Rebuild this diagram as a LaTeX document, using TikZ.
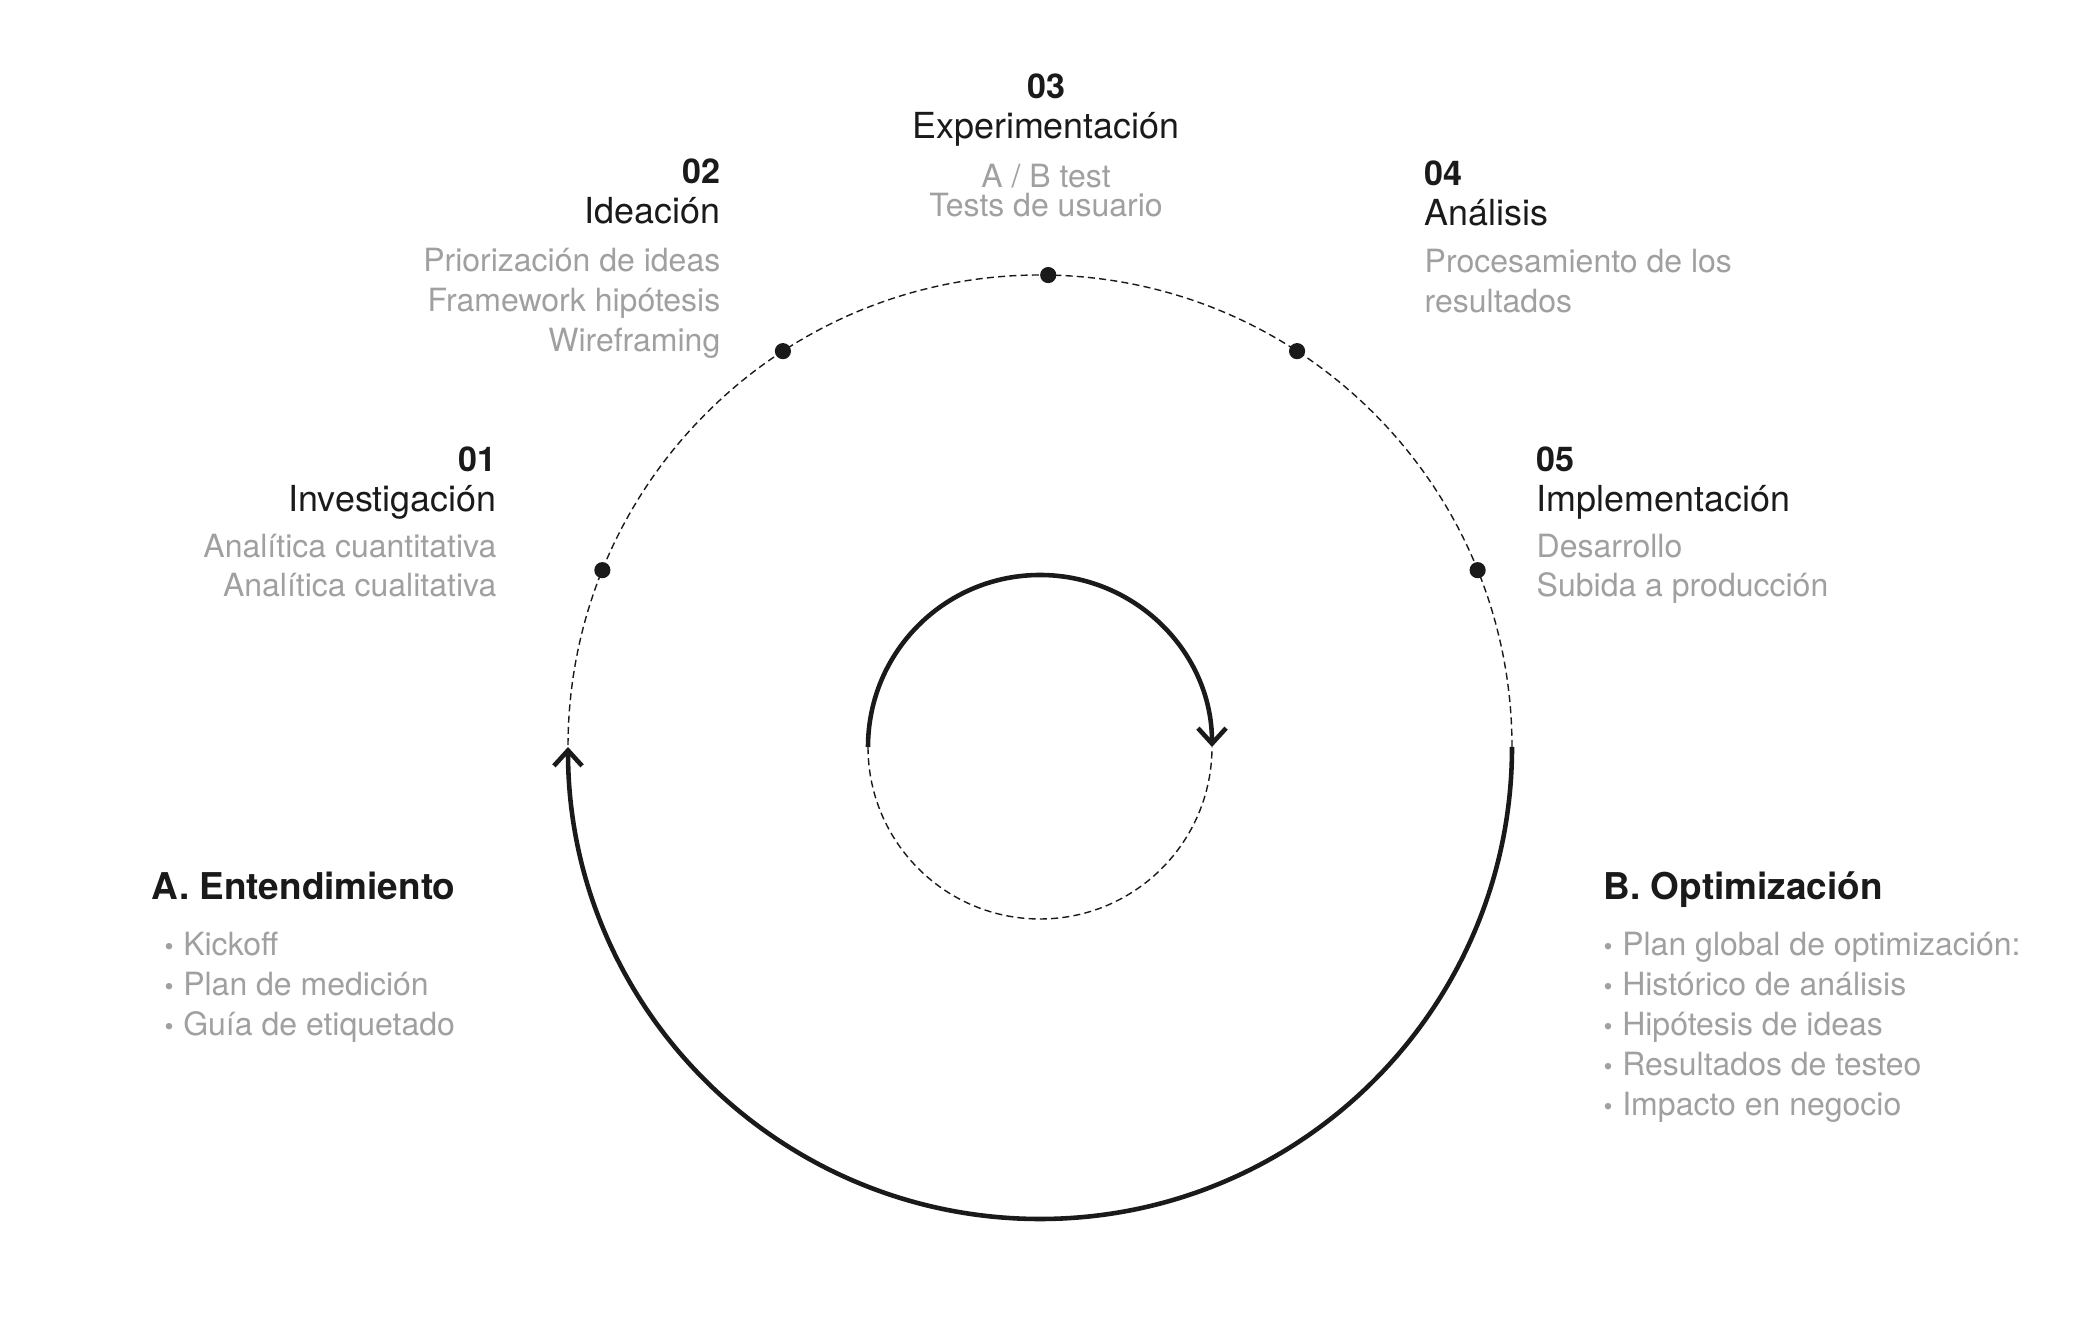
\documentclass[tikz,border=0pt]{standalone}
\usepackage{fontspec}
\setmainfont{TeX Gyre Heros}
\usetikzlibrary{arrows.meta}
\tikzset{>={Straight Barb[length=4.4pt,width=8pt]}}
\definecolor{ink}{HTML}{1A1A1A}
\definecolor{soft}{HTML}{A0A0A0}
\newcommand{\bul}{\scalebox{0.8}{•}\hspace{0.3em}}

\tikzset{
  num/.style={inner sep=0pt, text=ink, font=\fontsize{9.7}{11}\selectfont\bfseries},
  ttl/.style={inner sep=0pt, text=ink, font=\fontsize{10.2}{12}\selectfont},
  desc/.style={inner sep=0pt, text=soft, font=\fontsize{9.1}{11}\selectfont},
  hdg/.style={inner sep=0pt, text=ink, font=\fontsize{10.5}{12}\selectfont\bfseries},
  loopline/.style={draw=ink, line width=1.3pt},
  guide/.style={draw=ink, line width=0.4pt, dash pattern=on 2pt off 1.2pt},
  stagedot/.style={circle, fill=ink, inner sep=0pt, minimum size=4.6pt}
}

\begin{document}
\begin{tikzpicture}[x=0.01cm, y=0.01cm]
  \useasboundingbox (0,0) rectangle (2096,1324);
  \coordinate (c) at (1040,577);

  % outer cycle
  \draw[guide] ([shift={(0:472)}]c) arc[start angle=0, end angle=180, radius=472];
  \draw[loopline, ->] ([shift={(0:472)}]c) arc[start angle=0, end angle=-180, radius=472];
  % inner cycle
  \draw[guide] ([shift={(180:172)}]c) arc[start angle=180, end angle=360, radius=172];
  \draw[loopline, ->] ([shift={(180:172)}]c) arc[start angle=180, end angle=0, radius=172];

  \foreach \a [count=\i] in {158,123,89,57,22}
    \node[stagedot] (p\i) at ([shift={(\a:472)}]c) {};

  % 01
  \node[num, anchor=base east] (n1) at (497,852) {01};
  \node[ttl, anchor=base east] (t1) at (497,812) {Investigación};
  \foreach \txt [count=\i] in {Analítica cuantitativa, Analítica cualitativa}
    \node[desc, anchor=base east] (d1-\i) at (497,805-39*\i) {\txt};

  % 02
  \node[num, anchor=base east] (n2) at (721,1140) {02};
  \node[ttl, anchor=base east] (t2) at (721,1100) {Ideación};
  \foreach \txt [count=\i] in {Priorización de ideas, Framework hipótesis, Wireframing}
    \node[desc, anchor=base east] (d2-\i) at (721,1092-40*\i) {\txt};

  % 03
  \node[num, anchor=base] (n3) at (1046,1225) {03};
  \node[ttl, anchor=base] (t3) at (1046,1185) {Experimentación};
  \foreach \txt [count=\i] in {A / B test, Tests de usuario}
    \node[desc, anchor=base] (d3-\i) at (1046,1165-29*\i) {\txt};

  % 04
  \node[num, anchor=base west] (n4) at (1424,1138) {04};
  \node[ttl, anchor=base west] (t4) at (1424,1098) {Análisis};
  \foreach \txt [count=\i] in {Procesamiento de los, resultados}
    \node[desc, anchor=base west] (d4-\i) at (1424,1091-40*\i) {\txt};

  % 05
  \node[num, anchor=base west] (n5) at (1536,852) {05};
  \node[ttl, anchor=base west] (t5) at (1536,812) {Implementación};
  \foreach \txt [count=\i] in {Desarrollo, Subida a producción}
    \node[desc, anchor=base west] (d5-\i) at (1536,805-39*\i) {\txt};

  % A / B
  \node[hdg, anchor=base west] (ha) at (151,424) {A. Entendimiento};
  \foreach \txt [count=\i] in {Kickoff, Plan de medición, Guía de etiquetado}
    \node[desc, anchor=base west] (ia-\i) at (164,408-40*\i) {\bul\txt};

  \node[hdg, anchor=base west] (hb) at (1603,424) {B. Optimización};
  \foreach \txt [count=\i] in {Plan global de optimización:, Histórico de análisis, Hipótesis de ideas, Resultados de testeo, Impacto en negocio}
    \node[desc, anchor=base west] (ib-\i) at (1603,408-40*\i) {\bul\txt};
\end{tikzpicture}
\end{document}
